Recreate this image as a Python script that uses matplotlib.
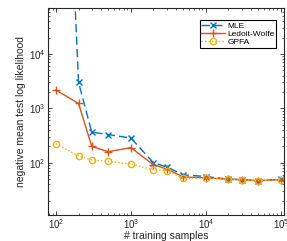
import matplotlib
matplotlib.use('Agg')
from matplotlib import pyplot as plt

plt.rcParams['font.family'] = ['Liberation Sans', 'DejaVu Sans']

# training set sizes
n_samples = [100, 200, 300, 500, 1000, 2000, 3000, 5000, 10000, 20000, 30000, 50000, 100000]

# negative mean test log likelihood per method
mle = [5e12, 3000, 365, 330, 285, 100, 84, 60, 56, 50, 49, 47, 50]
ledoit_wolf = [2170, 1230, 200, 160, 190, 92, 77, 55, 53, 50, 49, 47, 49]
gpfa = [223, 134, 113, 106, 95, 74, 72, 52, 52, 50, 49, 47, 49]

fig = plt.figure(figsize=(2.87, 2.41), dpi=100)
ax = fig.add_axes([0.167, 0.108, 0.822, 0.859])

ax.plot(n_samples, mle, color='#0072BD', ls=(0, (6, 3)), lw=1.0,
        marker='x', ms=5, mew=1.0, label='MLE')
ax.plot(n_samples, ledoit_wolf, color='#D95319', ls='-', lw=1.0,
        marker='+', ms=6, mew=1.0, label='Ledoit-Wolfe')
ax.plot(n_samples, gpfa, color='#EDB120', ls=(0, (1, 1.5)), lw=1.0,
        marker='o', ms=4.5, mfc='none', mew=1.0, label='GPFA')

ax.set_xscale('log')
ax.set_yscale('log')
ax.set_xlim(78, 1.1e5)
ax.set_ylim(11, 7e4)

ax.set_xlabel('# training samples', fontsize=7.5, labelpad=0, color='#262626')
ax.set_ylabel('negative mean test log likelihood', fontsize=7.5, labelpad=2, color='#262626')

ax.tick_params(which='both', direction='in', top=True, right=True,
               labelsize=7, colors='#262626', pad=1.5)
ax.tick_params(which='major', length=3, width=0.6)
ax.tick_params(which='minor', length=1.6, width=0.5)
for s in ax.spines.values():
    s.set_linewidth(0.8)
    s.set_color('#262626')

leg = ax.legend(loc='upper right', fontsize=6, fancybox=False, framealpha=1,
                edgecolor='black', borderpad=0.2, labelspacing=0.05,
                handlelength=2.8, handletextpad=0.3,
                bbox_to_anchor=(0.985, 0.96))
leg.get_frame().set_linewidth(0.8)

fig.savefig('out.png', dpi=100)
